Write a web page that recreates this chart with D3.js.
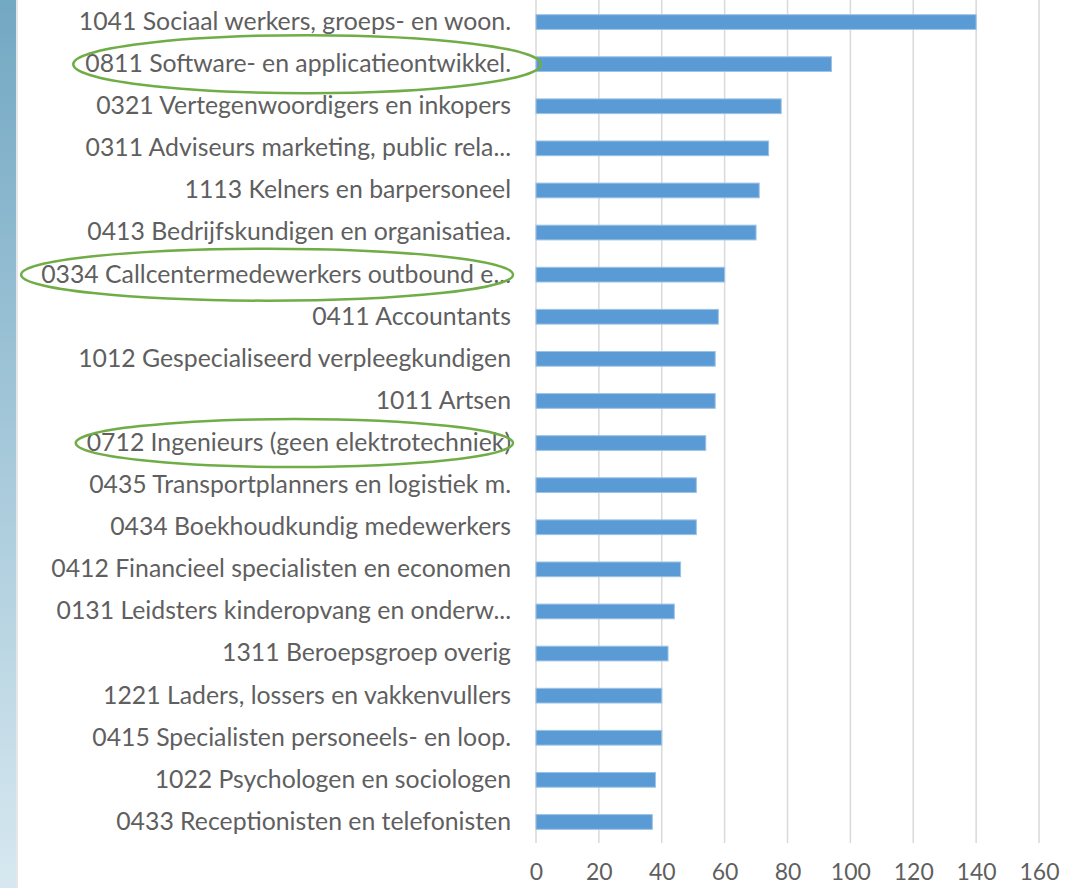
<!DOCTYPE html>
<html>
<head>
<meta charset="utf-8">
<script src="https://cdn.jsdelivr.net/npm/d3@7"></script>
<style>
  body { margin: 0; background: #fff; }
  svg { display: block; }
</style>
</head>
<body>
<div id="chart"></div>
<script>
// Beroepsgroepen (volgorde van boven naar beneden)
const categories = [
  "1041 Sociaal werkers, groeps- en woon.",
  "0811 Software- en applicatieontwikkel.",
  "0321 Vertegenwoordigers en inkopers",
  "0311 Adviseurs marketing, public rela...",
  "1113 Kelners en barpersoneel",
  "0413 Bedrijfskundigen en organisatiea.",
  "0334 Callcentermedewerkers outbound e...",
  "0411 Accountants",
  "1012 Gespecialiseerd verpleegkundigen",
  "1011 Artsen",
  "0712 Ingenieurs (geen elektrotechniek)",
  "0435 Transportplanners en logistiek m.",
  "0434 Boekhoudkundig medewerkers",
  "0412 Financieel specialisten en economen",
  "0131 Leidsters kinderopvang en onderw...",
  "1311 Beroepsgroep overig",
  "1221 Laders, lossers en vakkenvullers",
  "0415 Specialisten personeels- en loop.",
  "1022 Psychologen en sociologen",
  "0433 Receptionisten en telefonisten"
];

const values = [140, 94, 78, 74, 71, 70, 60, 58, 57, 57, 54, 51, 51, 46, 44, 42, 40, 40, 38, 37];

const xTicks = [0, 20, 40, 60, 80, 100, 120, 140, 160];

// omcirkelde beroepen
const highlighted = ["0811", "0334", "0712"];

const width = 1066;
const height = 888;
const margin = { top: 1, right: 27, bottom: 45, left: 536 };
const fontFamily = "Lato, 'Open Sans', sans-serif";
const textColor = "#5f5f5f";

const svg = d3.select("#chart").append("svg").attr("width", width).attr("height", height);

// blauwe rand links
const defs = svg.append("defs");
const grad = defs.append("linearGradient").attr("id", "edge").attr("x1", 0).attr("y1", 0).attr("x2", 0).attr("y2", 1);
grad.append("stop").attr("offset", "0%").attr("stop-color", "#73a8c3");
grad.append("stop").attr("offset", "100%").attr("stop-color", "#d7e8f0");
svg.append("rect").attr("x", 0).attr("y", 0).attr("width", 16).attr("height", height).attr("fill", "url(#edge)");
svg.append("rect").attr("x", 16).attr("y", 0).attr("width", 2).attr("height", height).attr("fill", "#e6e6e6");

const x = d3.scaleLinear().domain([0, 160]).range([margin.left, width - margin.right]);
const y = d3.scaleBand().domain(categories).range([margin.top, height - margin.bottom]).paddingInner(0.65).paddingOuter(0.325);

// rasterlijnen
svg.append("g")
  .selectAll("line")
  .data(xTicks)
  .enter()
  .append("line")
  .attr("x1", (d) => x(d))
  .attr("x2", (d) => x(d))
  .attr("y1", 0)
  .attr("y2", height - margin.bottom)
  .attr("stroke", "#d9d9d9")
  .attr("stroke-width", 1.5);

// x-as labels
const xAxis = svg.append("g")
  .attr("transform", `translate(0, ${height - margin.bottom})`)
  .call(d3.axisBottom(x).tickValues(xTicks).tickSize(0).tickPadding(21));
xAxis.select(".domain").remove();
xAxis.selectAll("text")
  .attr("font-family", fontFamily)
  .attr("font-size", "23px")
  .attr("fill", textColor);

// balken
svg.append("g")
  .selectAll("rect")
  .data(values)
  .enter()
  .append("rect")
  .attr("x", x(0))
  .attr("y", (d, i) => y(categories[i]))
  .attr("width", (d) => x(d) - x(0))
  .attr("height", y.bandwidth())
  .attr("fill", "#5b9bd5")
  .attr("stroke", "#9cc3e5")
  .attr("stroke-width", 1);

// y-as labels
const yAxis = svg.append("g")
  .attr("transform", `translate(${margin.left}, 0)`)
  .call(d3.axisLeft(y).tickSize(0).tickPadding(25));
yAxis.select(".domain").remove();
yAxis.selectAll("text")
  .attr("font-family", fontFamily)
  .attr("font-size", "24.8px")
  .attr("fill", textColor);

// groene ellipsen rond de gemarkeerde labels
const ellipsePad = { "0811": [12, 30, 29], "0334": [20, 2, 26], "0712": [11, 2, 24] };
yAxis.selectAll(".tick")
  .filter((d) => highlighted.includes(d.slice(0, 4)))
  .each(function (d) {
    const box = d3.select(this).select("text").node().getBBox();
    const pad = ellipsePad[d.slice(0, 4)];
    const left = margin.left + box.x - pad[0];
    const right = margin.left + box.x + box.width + pad[1];
    svg.append("ellipse")
      .attr("cx", (left + right) / 2)
      .attr("cy", y(d) + y.bandwidth() / 2)
      .attr("rx", (right - left) / 2)
      .attr("ry", pad[2])
      .attr("fill", "none")
      .attr("stroke", "#70ad47")
      .attr("stroke-width", 2.5);
  });
</script>
</body>
</html>
